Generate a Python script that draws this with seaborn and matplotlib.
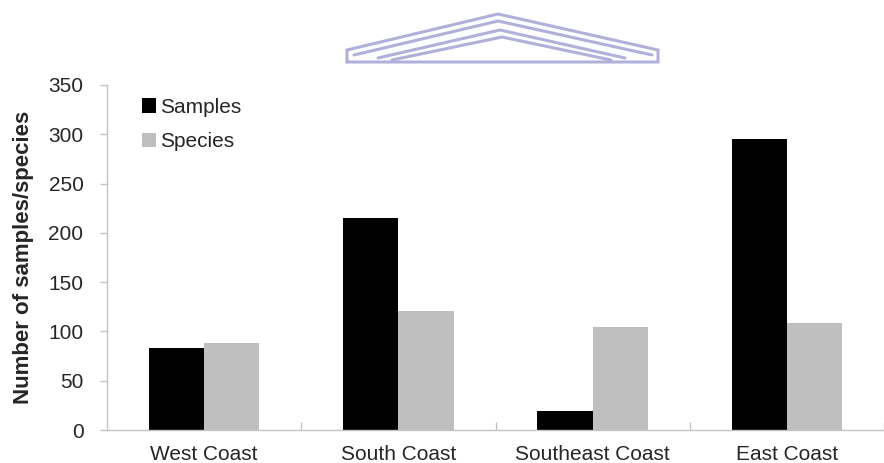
import matplotlib
matplotlib.use("Agg")
import matplotlib.pyplot as plt
from matplotlib.lines import Line2D
import seaborn as sns
import pandas as pd

regions = ["West Coast", "South Coast", "Southeast Coast", "East Coast"]
samples = [83, 215, 19, 295]
species = [88, 121, 105, 109]
series_names = ["Samples", "Species"]
series_colors = ["#000000", "#bfbfbf"]
y_ticks = [0, 50, 100, 150, 200, 250, 300, 350]
y_label = "Number of samples/species"

df = pd.DataFrame({
    "region": regions * 2,
    "count": samples + species,
    "series": [series_names[0]] * len(regions) + [series_names[1]] * len(regions),
})

sns.set_theme(style="white")
plt.rcParams["font.family"] = ["Liberation Sans", "DejaVu Sans"]

W, H = 884, 463
fig = plt.figure(figsize=(W / 100, H / 100), dpi=100)
ax = fig.add_axes([107 / W, 1 - 430 / H, 1 - 107 / W, (430 - 85) / H])

sns.barplot(data=df, x="region", y="count", hue="series", order=regions,
            hue_order=series_names, palette=series_colors, width=0.57,
            linewidth=0, saturation=1, ax=ax)

axis_grey = "#c4c4c4"
ax.set_xlim(-0.5, -0.5 + (W - 107) / 197)
ax.set_ylim(0, 350)
ax.set_yticks(y_ticks)
ax.set_xlabel("")
ax.set_ylabel(y_label, fontsize=16, fontweight="bold", labelpad=10)

for side in ("top", "right"):
    ax.spines[side].set_visible(False)
for side in ("left", "bottom"):
    ax.spines[side].set_color(axis_grey)
    ax.spines[side].set_linewidth(1.0)

ax.tick_params(axis="y", which="major", direction="out", length=5, width=1,
               color=axis_grey, labelsize=15, pad=12, left=True)
ax.set_xticks(range(len(regions)))
ax.set_xticklabels(regions)
ax.set_xticks([i + 0.5 for i in range(len(regions))], minor=True)
ax.tick_params(axis="x", which="major", length=0, labelsize=15, pad=11)
ax.tick_params(axis="x", which="minor", direction="in", length=6, width=1,
               color=axis_grey, bottom=True)

leg = ax.legend(loc="upper left", bbox_to_anchor=(22 / (W - 107), 1.0),
                frameon=False, fontsize=15, handlelength=0.7,
                handleheight=0.7, handletextpad=0.2, labelspacing=0.75,
                borderaxespad=0.2)

# roof-shaped emblem above the plot area
logo_color = "#b0b0da"
def px(points):
    xs = [p[0] / W for p in points]
    ys = [1 - p[1] / H for p in points]
    return xs, ys

emblem = [
    [(347, 62), (347, 50), (498, 14), (658, 50), (658, 62), (347, 62)],
    [(354, 55), (498, 21), (652, 55)],
    [(378, 58), (500, 30), (625, 58)],
    [(392, 60), (502, 37), (611, 60)],
]
for pts in emblem:
    xs, ys = px(pts)
    fig.add_artist(Line2D(xs, ys, transform=fig.transFigure, color=logo_color,
                          linewidth=2.2, solid_joinstyle="miter"))

fig.savefig("out.png", dpi=100)
